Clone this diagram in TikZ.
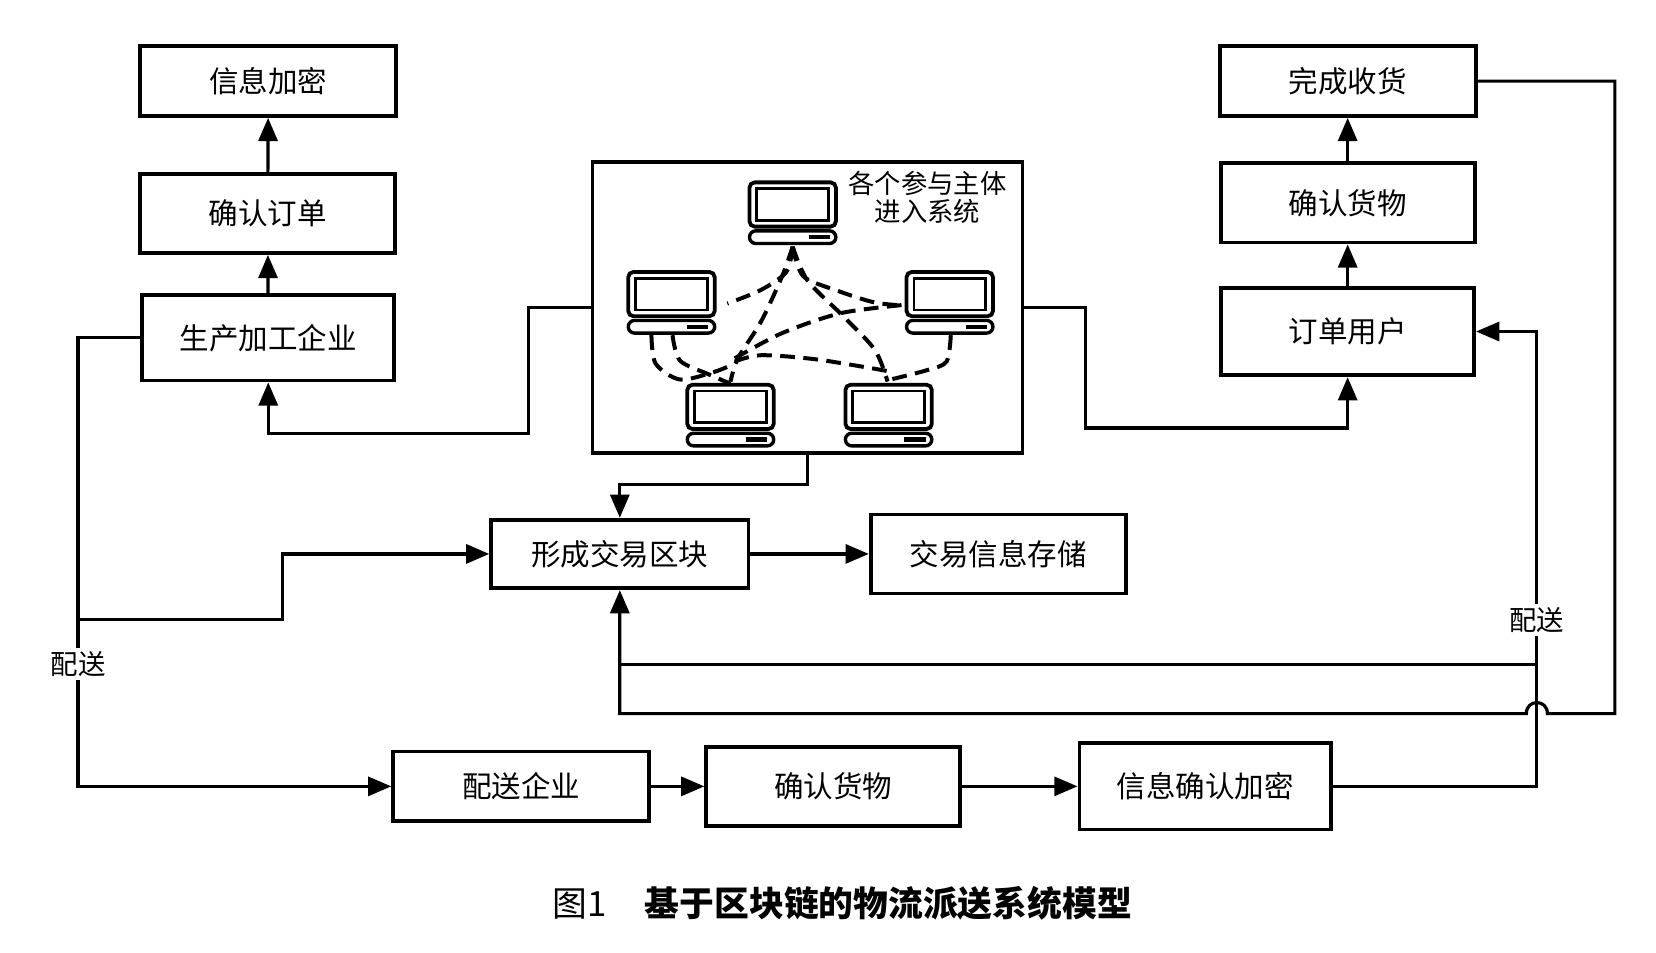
\documentclass[tikz,border=0pt]{standalone}
\usepackage{fontspec}
\newfontfamily\cjk{Noto Sans CJK SC}
\usetikzlibrary{arrows.meta}
\tikzset{
  box/.style={draw, line width=1.8pt, inner sep=0pt, font=\cjk\fontsize{14}{16}\selectfont},
  flow/.style={line width=1.5pt, -{Triangle[length=11pt,width=9pt]}},
  wire/.style={line width=1.5pt},
  tag/.style={fill=white, inner sep=1.5pt, font=\cjk\fontsize{13}{15}\selectfont},
  net/.style={line width=1.9pt, dash pattern=on 7pt off 4pt},
}
\begin{document}
\begin{tikzpicture}[x=0.5pt, y=-0.5pt]
  \useasboundingbox (0,0) rectangle (1571,904);

  % Left column: producer side
  \node[box, minimum width=121.5pt, minimum height=33pt] (encrypt) at (254.5,77) {信息加密};
  \node[box, minimum width=121pt, minimum height=37.5pt] (order) at (254,202.5) {确认订单};
  \node[box, minimum width=119.5pt, minimum height=40.5pt] (producer) at (254.5,320.5) {生产加工企业};

  % Right column: user side
  \node[box, minimum width=121.5pt, minimum height=33pt] (received) at (1278.5,77) {完成收货};
  \node[box, minimum width=120.5pt, minimum height=37.5pt] (goodsTop) at (1278.5,192.5) {确认货物};
  \node[box, minimum width=120pt, minimum height=41.5pt] (user) at (1278.5,314.5) {订单用户};

  % Middle: the system and the block
  \node[box, minimum width=204pt, minimum height=138pt] (system) at (766,292) {};
  \node[font=\cjk\fontsize{12.5}{13.5}\selectfont, align=center] (joinText) at (880,187) {各个参与主体\\进入系统};
  \node[box, minimum width=122pt, minimum height=32.5pt] (block) at (588,525.5) {形成交易区块};
  \node[box, minimum width=121pt, minimum height=37.5pt] (store) at (947,525.5) {交易信息存储};

  % Bottom row: delivery
  \node[box, minimum width=121.5pt, minimum height=33pt] (carrier) at (494.5,746) {配送企业};
  \node[box, minimum width=120.5pt, minimum height=37.5pt] (goodsLow) at (790.5,746) {确认货物};
  \node[box, minimum width=119.5pt, minimum height=41pt] (sealed) at (1143.5,746) {信息确认加密};

  % Computers in the system box
  \foreach \x/\y in {711/173, 596/258, 860/258, 652/365, 802/365} {
    \draw[line width=1.8pt, rounded corners=2.5pt] (\x,\y) rectangle ++(82,42); % monitor
    \draw[line width=1.3pt] (\x+7,\y+6) rectangle ++(68,30); % screen
    \draw[line width=1.6pt, rounded corners=3pt] (\x,\y+46) rectangle ++(82,12); % base
    \fill (\x+56,\y+50) rectangle ++(20,4); % slot
  }

  % Dashed links between computers
  \draw[net] plot[smooth] coordinates {(752,234) (746,258) (722,275) (690,288)};
  \draw[net] plot[smooth] coordinates {(752,234) (742,262) (722,305) (700,340) (693,362)};
  \draw[net] plot[smooth] coordinates {(752,234) (762,262) (795,276) (830,287) (860,290)};
  \draw[net] plot[smooth] coordinates {(752,234) (766,266) (800,300) (830,332) (842,362)};
  \draw[net] plot[smooth] coordinates {(697,340) (742,316) (798,297) (860,289)};
  \draw[net] plot[smooth] coordinates {(697,343) (722,337) (775,341) (842,352)};
  \draw[net] plot[smooth] coordinates {(618,318) (622,345) (645,360) (677,353) (697,345)};
  \draw[net] plot[smooth] coordinates {(638,318) (645,342) (672,355) (693,364)};
  \draw[net] plot[smooth] coordinates {(902,318) (898,343) (880,351) (845,360)};

  % Vertical chains
  \draw[flow] (producer) -- (order);
  \draw[flow] (order) -- (encrypt);
  \draw[flow] (user) -- (goodsTop);
  \draw[flow] (goodsTop) -- (received);

  % System to both sides
  \draw[flow] (system.west) -| (501,411) -| (producer.south);
  \draw[flow] (system.east) -| (1030,406) -| (user.south);
  \draw[flow] (system.south) |- (588,460) -- (block.north);
  \draw[flow] (block) -- (store);

  % Producer to delivery
  \coordinate (split) at (74,588);
  \draw[flow] (producer.west) -| (74,746) -- (carrier.west);
  \draw[flow] (split) -| (268,525.5) -- (block.west);
  \draw[flow] (carrier) -- (goodsLow);
  \draw[flow] (goodsLow) -- (sealed);

  % Delivery back to the user and the block
  \coordinate (join) at (1458,630);
  \draw[flow] (sealed.east) -| (1458,314.5) -- (user.east);
  \draw[wire] (join) -- (588,630);
  \draw[flow] (received.east) -| (1532,677) -- (1468,677)
    .. controls (1468,663) and (1448,663) .. (1448,677) -- (588,677) -- (block.south); % hop

  % Labels on the lines
  \node[tag] (tagLeft) at (74,630) {配送};
  \node[tag] (tagRight) at (1458,588) {配送};

  % Caption
  \node[font=\cjk\fontsize{16.5}{18}\selectfont] (caption) at (799,857) {图1\hspace{1.1em}{\bfseries 基于区块链的物流派送系统模型}};
\end{tikzpicture}
\end{document}
